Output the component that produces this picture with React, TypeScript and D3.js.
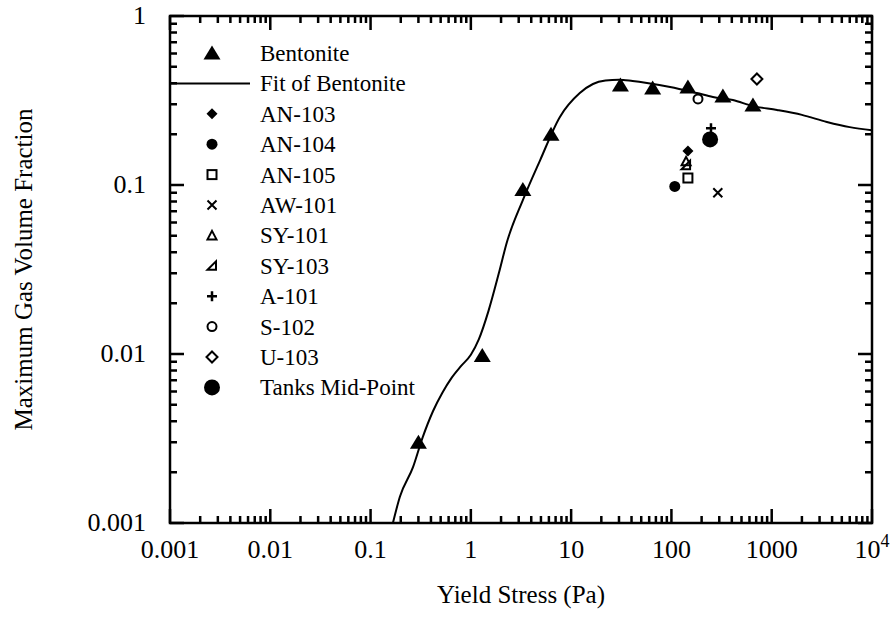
import React from 'react';
import * as d3 from 'd3';

// Bentonite measurements
const bentoniteStress = [0.3, 1.3, 3.3, 6.3, 31, 65, 146, 326, 650];
const bentoniteGas = [0.003, 0.0098, 0.094, 0.2, 0.39, 0.375, 0.38, 0.336, 0.297];

// fit curve
const fitStress = [0.167, 0.196, 0.265, 0.33, 0.42, 0.52, 0.64, 0.8, 1.0, 1.2, 1.5, 1.9, 2.29, 3.3, 4.9, 7.7, 12.2, 16.5, 22, 30, 41, 57, 97, 179, 259, 410, 650, 1130, 2000, 3550, 6000, 10000];
const fitGas = [0.001, 0.00143, 0.00214, 0.0032, 0.0046, 0.0059, 0.0072, 0.0085, 0.0099, 0.0122, 0.018, 0.03, 0.046, 0.0815, 0.14, 0.252, 0.35, 0.396, 0.415, 0.42, 0.412, 0.401, 0.38, 0.35, 0.332, 0.318, 0.293, 0.278, 0.26, 0.236, 0.22, 0.211];

// tank samples
const tankNames = ['AN-103', 'AN-104', 'AN-105', 'AW-101', 'SY-101', 'SY-103', 'A-101', 'S-102', 'U-103', 'Tanks Mid-Point'];
const tankStress = [146, 108, 146, 290, 140, 140, 248, 184, 712, 243];
const tankGas = [0.159, 0.098, 0.11, 0.09, 0.138, 0.131, 0.217, 0.323, 0.424, 0.186];

const xTicks = [0.001, 0.01, 0.1, 1, 10, 100, 1000, 10000];
const xTickLabels = ['0.001', '0.01', '0.1', '1', '10', '100', '1000', '10^4'];
const yTicks = [0.001, 0.01, 0.1, 1];
const yTickLabels = ['0.001', '0.01', '0.1', '1'];

const FONT = "'Liberation Serif', 'Times New Roman', serif";

const margin = { top: 16, right: 21, bottom: 94, left: 170 };
const W = 893;
const H = 617;
const innerW = W - margin.left - margin.right;
const innerH = H - margin.top - margin.bottom;

const x = d3.scaleLog().domain([0.001, 10000]).range([0, innerW]);
const y = d3.scaleLog().domain([0.001, 1]).range([innerH, 0]);

const Marker = ({ kind, cx, cy }: { kind: string; cx: number; cy: number }) => {
  const s = { stroke: '#000', strokeWidth: 2, fill: 'none' };
  switch (kind) {
    case 'Bentonite':
      return <path d={`M${cx},${cy - 7.5}L${cx + 8.5},${cy + 6.5}L${cx - 8.5},${cy + 6.5}Z`} fill="#000" />;
    case 'AN-103':
      return <path d={`M${cx},${cy - 5.5}L${cx + 5.5},${cy}L${cx},${cy + 5.5}L${cx - 5.5},${cy}Z`} fill="#000" />;
    case 'AN-104':
      return <circle cx={cx} cy={cy} r={5.5} fill="#000" />;
    case 'AN-105':
      return <rect x={cx - 4.5} y={cy - 4.5} width={9} height={9} {...s} />;
    case 'AW-101':
      return <path d={`M${cx - 4.5},${cy - 4.5}L${cx + 4.5},${cy + 4.5}M${cx + 4.5},${cy - 4.5}L${cx - 4.5},${cy + 4.5}`} {...s} />;
    case 'SY-101':
      return <path d={`M${cx},${cy - 4.5}L${cx + 4.5},${cy + 4}L${cx - 4.5},${cy + 4}Z`} {...s} />;
    case 'SY-103':
      return <path d={`M${cx + 4},${cy - 4.5}L${cx + 4},${cy + 4}L${cx - 4.5},${cy + 4}Z`} {...s} />;
    case 'A-101':
      return <path d={`M${cx - 5},${cy}L${cx + 5},${cy}M${cx},${cy - 5}L${cx},${cy + 5}`} {...s} strokeWidth={2.5} />;
    case 'S-102':
      return <circle cx={cx} cy={cy} r={4.5} {...s} />;
    case 'U-103':
      return <path d={`M${cx},${cy - 5.5}L${cx + 5.5},${cy}L${cx},${cy + 5.5}L${cx - 5.5},${cy}Z`} {...s} />;
    case 'Tanks Mid-Point':
      return <circle cx={cx} cy={cy} r={8} fill="#000" />;
    default:
      return null;
  }
};

const App = () => {
  const fitLine = d3.line<number>()
    .x((d) => x(fitStress[d]))
    .y((d) => y(fitGas[d]))
    .curve(d3.curveMonotoneX);

  // minor ticks 2..9 in each decade
  const xMinor: number[] = [];
  for (let e = -3; e < 4; e++) for (let k = 2; k <= 9; k++) xMinor.push(k * Math.pow(10, e));
  const yMinor: number[] = [];
  for (let e = -3; e < 0; e++) for (let k = 2; k <= 9; k++) yMinor.push(k * Math.pow(10, e));

  const major = 14;
  const minor = 7;

  // all ticks pointing inward, on every side, as one path
  let tickPath = '';
  xTicks.forEach((t) => {
    tickPath += `M${x(t)},${innerH}V${innerH - major}M${x(t)},0V${major}`;
  });
  xMinor.forEach((t) => {
    tickPath += `M${x(t)},${innerH}V${innerH - minor}M${x(t)},0V${minor}`;
  });
  yTicks.forEach((t) => {
    tickPath += `M0,${y(t)}H${major}M${innerW},${y(t)}H${innerW - major}`;
  });
  yMinor.forEach((t) => {
    tickPath += `M0,${y(t)}H${minor}M${innerW},${y(t)}H${innerW - minor}`;
  });

  const legendItems = ['Bentonite', 'Fit of Bentonite', ...tankNames];

  return (
    <div style={{ position: 'absolute', left: 0, top: 0 }}>
      <svg width={W} height={H} style={{ display: 'block', background: '#fff' }} fontFamily={FONT}>
        <defs>
          <clipPath id="plotclip">
            <rect x={0} y={0} width={innerW} height={innerH} />
          </clipPath>
        </defs>
        <g transform={`translate(${margin.left},${margin.top})`}>
          <path d={tickPath} stroke="#000" strokeWidth={2.5} fill="none" />
          <rect x={0} y={0} width={innerW} height={innerH} fill="none" stroke="#000" strokeWidth={2.5} />

          {/* tick labels */}
          {xTicks.map((t, i) => {
            const lab = xTickLabels[i];
            if (lab === '10^4') {
              return (
                <text key={`xl${i}`} x={x(t)} y={innerH + 35} textAnchor="middle" fontSize={26}>
                  10<tspan fontSize={18} dy={-11}>4</tspan>
                </text>
              );
            }
            return (
              <text key={`xl${i}`} x={x(t)} y={innerH + 35} textAnchor="middle" fontSize={26}>
                {lab}
              </text>
            );
          })}
          {yTicks.map((t, i) => (
            <text key={`yl${i}`} x={-24} y={y(t) + 8} textAnchor="end" fontSize={26}>
              {yTickLabels[i]}
            </text>
          ))}

          {/* fit curve */}
          <path
            d={fitLine(d3.range(fitStress.length)) || ''}
            fill="none"
            stroke="#000"
            strokeWidth={2}
            clipPath="url(#plotclip)"
          />

          {/* bentonite data */}
          {bentoniteStress.map((v, i) => (
            <Marker key={`b${i}`} kind="Bentonite" cx={x(v)} cy={y(bentoniteGas[i])} />
          ))}

          {/* tank data */}
          {tankNames.map((n, i) => (
            <Marker key={`t${n}`} kind={n} cx={x(tankStress[i])} cy={y(tankGas[i])} />
          ))}

          {/* legend */}
          {legendItems.map((n, i) => {
            const ly = 37 + i * 30.4;
            return (
              <g key={`lg${n}`}>
                {n === 'Fit of Bentonite' ? (
                  <line x1={0} x2={80} y1={ly} y2={ly} stroke="#000" strokeWidth={2} />
                ) : (
                  <Marker kind={n} cx={42} cy={ly} />
                )}
                <text x={90} y={ly + 8} fontSize={23}>
                  {n}
                </text>
              </g>
            );
          })}
        </g>

        {/* axis titles */}
        <text x={margin.left + innerW / 2} y={603} textAnchor="middle" fontSize={25}>
          Yield Stress (Pa)
        </text>
        <text
          transform={`translate(32,${margin.top + innerH / 2}) rotate(-90)`}
          textAnchor="middle"
          fontSize={25}
        >
          Maximum Gas Volume Fraction
        </text>
      </svg>
    </div>
  );
};

export default App;
